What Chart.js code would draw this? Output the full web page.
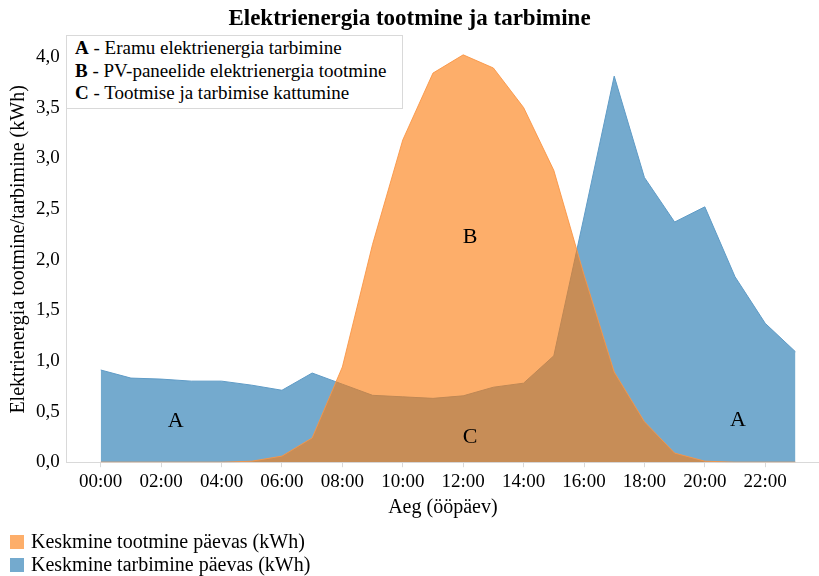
<!DOCTYPE html>
<html>
<head>
<meta charset="utf-8">
<script src="https://cdn.jsdelivr.net/npm/chart.js@4.4.1/dist/chart.umd.min.js"></script>
<style>
  html, body { margin: 0; padding: 0; background: #fff; }
  #wrap { position: relative; width: 819px; height: 576px; font-family: "Liberation Serif", serif; color: #000; }
  #energyChart { position: absolute; left: 0; top: 0; }
  #notes { position: absolute; left: 66px; top: 35px; width: 327px; padding: 1px 0 3px 8px; border: 1px solid #d9d9d9; background: #fff; font-size: 19px; line-height: 22.5px; }
  #legend { position: absolute; left: 10px; top: 530px; font-size: 20px; line-height: 23px; }
  #legend .sw { display: inline-block; width: 14px; height: 14px; margin-right: 7px; vertical-align: -1px; }
</style>
</head>
<body>
<div id="wrap">
  <canvas id="energyChart" width="819" height="576"></canvas>
  <div id="notes"></div>
  <div id="legend"></div>
</div>
<script>
// hours of the day (0 = 00:00)
const hours = [0, 1, 2, 3, 4, 5, 6, 7, 8, 9, 10, 11, 12, 13, 14, 15, 16, 17, 18, 19, 20, 21, 22, 23];
// average production per hour (kWh)
const production = [0, 0, 0, 0, 0, 0.01, 0.06, 0.24, 0.94, 2.15, 3.18, 3.84, 4.02, 3.89, 3.5, 2.88, 1.85, 0.89, 0.4, 0.09, 0.01, 0, 0, 0];
// average consumption per hour (kWh)
const consumption = [0.91, 0.83, 0.82, 0.8, 0.8, 0.76, 0.71, 0.88, 0.77, 0.66, 0.645, 0.63, 0.655, 0.74, 0.78, 1.05, 2.42, 3.81, 2.81, 2.37, 2.52, 1.83, 1.37, 1.09];
const xTicks = [0, 2, 4, 6, 8, 10, 12, 14, 16, 18, 20, 22];
const yTicks = [0, 0.5, 1, 1.5, 2, 2.5, 3, 3.5, 4];
const seriesLabels = ["Keskmine tootmine päevas (kWh)", "Keskmine tarbimine päevas (kWh)"];
// area markers inside the plot: [letter, hour, kWh]
const areaMarks = [["A", 2.48, 0.40], ["A", 21.1, 0.41], ["B", 12.23, 2.22], ["C", 12.23, 0.25]];
const notes = [["A", "Eramu elektrienergia tarbimine"], ["B", "PV-paneelide elektrienergia tootmine"], ["C", "Tootmise ja tarbimise kattumine"]];

const orangeFill = "rgba(251,122,11,0.61)";
const blueFill = "rgb(116,170,206)";

Chart.defaults.font.family = "'Liberation Serif', serif";
Chart.defaults.color = "#000";

const hourLabel = (v) => String(v).padStart(2, "0") + ":00";

const markPlugin = {
  id: "areaMarks",
  afterDatasetsDraw(chart) {
    const { ctx, scales } = chart;
    ctx.save();
    ctx.font = "22px 'Liberation Serif', serif";
    ctx.fillStyle = "#000";
    ctx.textAlign = "center";
    ctx.textBaseline = "middle";
    areaMarks.forEach(([t, h, v]) => {
      ctx.fillText(t, scales.x.getPixelForValue(h), scales.y.getPixelForValue(v));
    });
    ctx.restore();
  }
};

const ctx = document.getElementById("energyChart").getContext("2d");
new Chart(ctx, {
  type: "line",
  data: {
    datasets: [
      {
        label: seriesLabels[0],
        data: hours.map((h, i) => ({ x: h, y: production[i] })),
        backgroundColor: orangeFill,
        borderColor: "rgba(250,150,70,0.9)",
        borderWidth: 1,
        fill: "origin",
        pointRadius: 0,
        tension: 0
      },
      {
        label: seriesLabels[1],
        data: hours.map((h, i) => ({ x: h, y: consumption[i] })),
        backgroundColor: blueFill,
        borderColor: "rgb(95,155,198)",
        borderWidth: 1,
        fill: "origin",
        pointRadius: 0,
        tension: 0
      }
    ]
  },
  options: {
    responsive: false,
    animation: false,
    layout: { padding: { left: 0, right: 0, top: 0, bottom: 56 } },
    plugins: {
      legend: { display: false },
      tooltip: { enabled: false },
      title: {
        display: true,
        text: "Elektrienergia tootmine ja tarbimine",
        font: { size: 23, weight: "bold" },
        padding: { top: 5, bottom: 4 }
      }
    },
    scales: {
      x: {
        type: "linear",
        min: -1.125,
        max: 23.78,
        afterBuildTicks: (scale) => { scale.ticks = xTicks.map((v) => ({ value: v })); },
        ticks: { font: { size: 19 }, padding: 3, maxRotation: 0, callback: (v) => hourLabel(v) },
        grid: { drawOnChartArea: false, drawTicks: true, tickLength: 5, color: "#d9d9d9" },
        border: { color: "#d9d9d9" },
        title: { display: true, text: "Aeg (ööpäev)", font: { size: 20 }, padding: { top: 0, bottom: 0 } }
      },
      y: {
        min: 0,
        max: 4.2,
        afterBuildTicks: (scale) => { scale.ticks = yTicks.map((v) => ({ value: v })); },
        ticks: { font: { size: 19 }, padding: 7, callback: (v) => v.toFixed(1).replace(".", ",") },
        grid: { drawOnChartArea: false, drawTicks: false },
        border: { color: "#d9d9d9" },
        title: { display: true, text: "Elektrienergia tootmine/tarbimine (kWh)", font: { size: 20, lineHeight: 1 }, padding: { top: 9, bottom: 0 } }
      }
    }
  },
  plugins: [markPlugin]
});

document.getElementById("notes").innerHTML = notes
  .map(([k, t]) => "<div><b>" + k + "</b> - " + t + "</div>").join("");

const swatches = [orangeFill, blueFill];
document.getElementById("legend").innerHTML = seriesLabels
  .map((t, i) => '<div><span class="sw" style="background:' + swatches[i] + '"></span>' + t + "</div>").join("");
</script>
</body>
</html>
